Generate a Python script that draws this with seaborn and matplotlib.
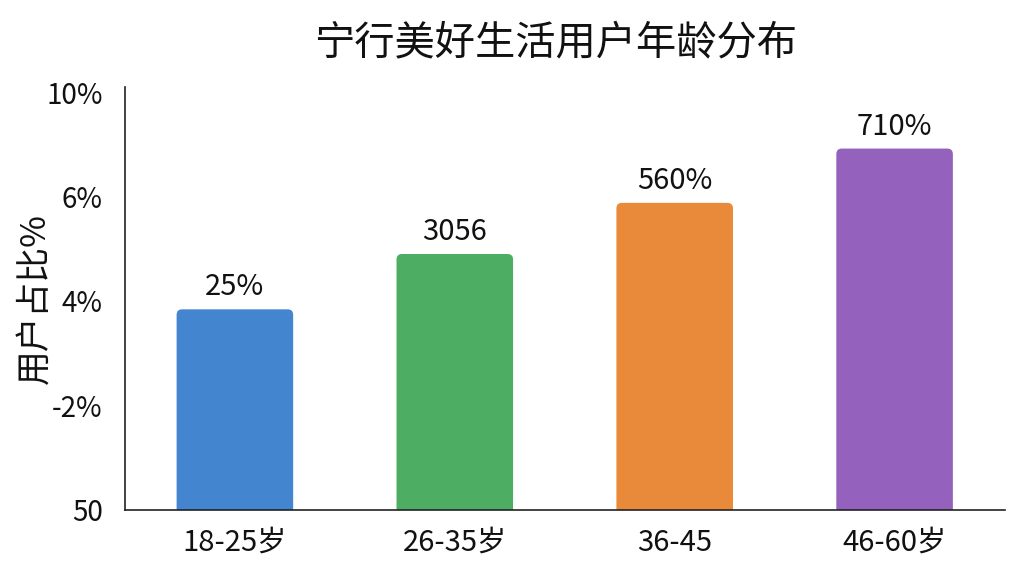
import matplotlib
matplotlib.use("Agg")
import matplotlib.pyplot as plt
from matplotlib.patches import FancyBboxPatch
import seaborn as sns
import pandas as pd

# data (heights in tick units, 0..4)
age_groups = ["18-25岁", "26-35岁", "36-45", "46-60岁"]
shares = [1.92, 2.45, 2.94, 3.46]
bar_labels = ["25%", "3056", "560%", "710%"]
ytick_pos = [0, 1, 2, 3, 4]
ytick_labels = ["50", "-2%", "4%", "6%", "10%"]
colors = ["#4485D0", "#4DAD63", "#E88A3A", "#9461BC"]

sns.set_style("white")
plt.rcParams['font.family'] = ['Noto Sans CJK SC', 'DejaVu Sans']
plt.rcParams['font.weight'] = 500

df = pd.DataFrame({"age": age_groups, "share": shares})

fig = plt.figure(figsize=(10.24, 5.76), dpi=100)
ax = fig.add_axes([0.122, 0.115, 0.859, 0.734])
sns.barplot(data=df, x="age", y="share", hue="age", palette=colors,
            width=0.53, legend=False, ax=ax, saturation=1)
ax.set_xlim(-0.5, 3.5)
ax.set_ylim(0, 4.05)

# slightly rounded bar tops
aspect = (880 / 4) / (423 / 4.05)
for p in list(ax.patches):
    x, w, h = p.get_x(), p.get_width(), p.get_height()
    r = 0.025
    fb = FancyBboxPatch((x, -0.2), w, h + 0.2,
                        boxstyle=f"round,pad=0,rounding_size={r}",
                        mutation_aspect=aspect, facecolor=p.get_facecolor(),
                        edgecolor="none")
    ax.add_patch(fb)
    p.set_visible(False)

for x, h, lab in zip(range(len(shares)), shares, bar_labels):
    ax.annotate(lab, (x, h), xytext=(0, 5), textcoords="offset points",
                ha="center", va="bottom", fontsize=21, color="#111111")

ax.set_yticks(ytick_pos)
ax.set_yticklabels(ytick_labels)
ax.tick_params(axis="y", labelsize=20, length=3, width=0.8, pad=13, colors="#111111")
ax.tick_params(axis="x", labelsize=21, length=0, pad=13, colors="#111111")
ax.set_xlabel("")
ax.set_ylabel("用户占比%", fontsize=25, labelpad=-5, color="#111111")
sns.despine(ax=ax)
for s in ["left", "bottom"]:
    ax.spines[s].set_color("#222222")
    ax.spines[s].set_linewidth(1.2)

fig.suptitle("宁行美好生活用户年龄分布", fontsize=29, x=0.543, y=0.962, color="#111111")

fig.savefig("out.png", dpi=100)
